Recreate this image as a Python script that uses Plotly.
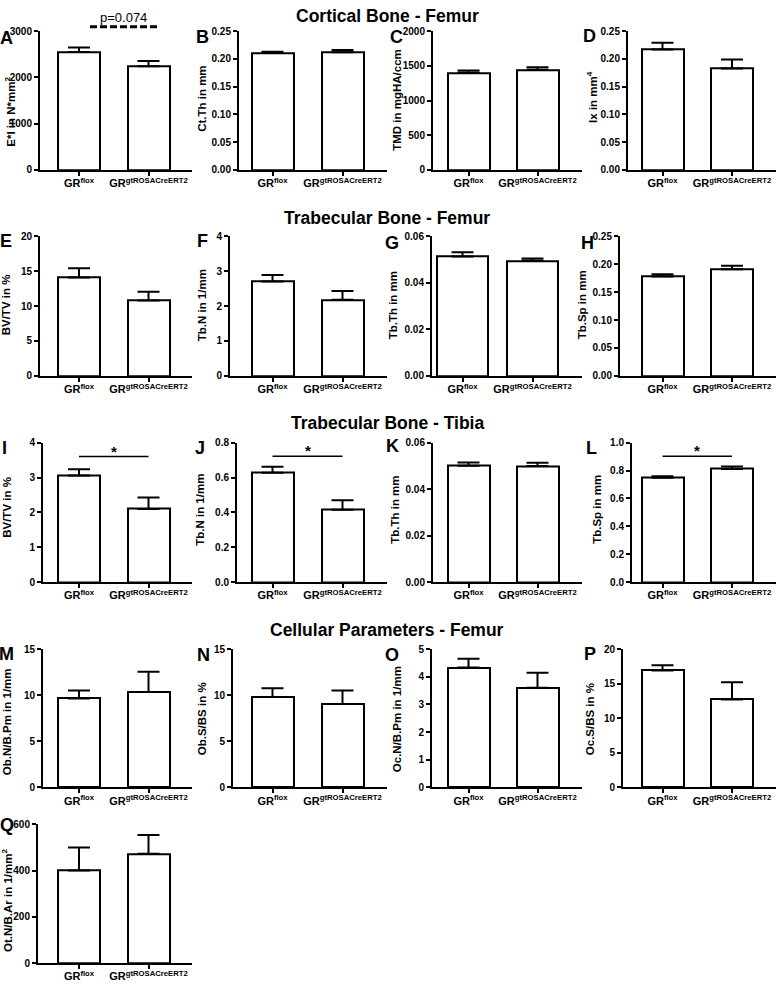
import plotly.graph_objects as go

W, H = 776, 986

# ---------------- data ----------------
groups = ["GR<sup>flox</sup>", "GR<sup>gtROSACreERT2</sup>"]
panel_letters = list("ABCDEFGHIJKLMNOPQ")
row_titles = ["Cortical Bone - Femur", "Trabecular Bone - Femur",
              "Trabecular Bone - Tibia", "Cellular Parameters - Femur"]
y_titles = ["E*I in N*mm<sup>2</sup>", "Ct.Th in mm", "TMD in mgHA/ccm", "Ix in mm<sup>4</sup>",
            "BV/TV in %", "Tb.N in 1/mm", "Tb.Th in mm", "Tb.Sp in mm",
            "BV/TV in %", "Tb.N in 1/mm", "Tb.Th in mm", "Tb.Sp in mm",
            "Ob.N/B.Pm in 1/mm", "Ob.S/BS in %", "Oc.N/B.Pm in 1/mm", "Oc.S/BS in %",
            "Ot.N/B.Ar in 1/mm<sup>2</sup>"]
flox_mean = [2550, 0.211, 1400, 0.217, 14.1, 2.70, 0.0513, 0.178, 3.06, 0.627, 0.0501, 0.749,
             9.65, 9.8, 4.33, 16.9, 400]
flox_sem = [95, 0.002, 32, 0.012, 1.3, 0.19, 0.0018, 0.004, 0.18, 0.035, 0.0014, 0.010,
            0.85, 0.95, 0.32, 0.75, 100]
cre_mean = [2240, 0.212, 1443, 0.183, 10.8, 2.18, 0.0494, 0.191, 2.10, 0.415, 0.0499, 0.811,
            10.35, 9.05, 3.60, 12.7, 472]
cre_sem = [115, 0.004, 37, 0.016, 1.25, 0.25, 0.0010, 0.006, 0.33, 0.055, 0.0014, 0.018,
           2.2, 1.45, 0.54, 2.5, 82]
y_max = [3000, 0.25, 2000, 0.25, 20, 4, 0.06, 0.25, 4, 0.8, 0.06, 1.0, 15, 15, 5, 20, 600]
y_dtick = [1000, 0.05, 500, 0.05, 5, 1, 0.02, 0.05, 1, 0.2, 0.02, 0.2, 5, 5, 1, 5, 200]
y_format = ["d", ".2f", "d", ".2f", "d", "d", ".2f", ".2f", "d", ".1f", ".2f", ".1f",
            "d", "d", "d", "d", "d"]
# significance marks: panel index -> (label, line height in data units)
sig_panels = {8: ("*", 3.6), 9: ("*", 0.722), 11: ("*", 0.903)}
trend_label = "p=0.074"

# ---------------- geometry (pixels) ----------------
axis_left = [40, 239, 433, 628, 40, 230, 432, 620, 43, 237, 433, 632, 43, 233, 432, 623, 38]
row_top = [25.5, 233, 442, 651, 828.3]
row_bot = [166, 374.5, 583.3, 791, 969]
col_centers = [(79, 148.5), (272.5, 342.5), (468.5, 537.5), (662.5, 732)]
col_right = [192, 387, 582, 776]
bar_px = 42
title_pos = [(10, 107), (202, 94), (397, 95), (592, 92),
             (6, 303), (202, 303), (393, 303), (582, 303),
             (7, 508), (200, 510), (395, 510), (597, 510),
             (7, 725), (202, 722), (397, 722), (590, 722),
             (7, 906)]
letter_pos = [(6, 32), (202, 31), (396, 31), (589, 30),
              (6, 238), (202, 238), (392, 240), (587, 240),
              (4, 447), (200, 447), (392, 445), (591, 447),
              (7, 656), (203, 657), (392, 657), (590, 656),
              (7, 829)]
row_title_y = [10, 215, 422, 632]

FONT = "Liberation Sans, Arial, Helvetica, sans-serif"


def px(x):
    return x / W


def py(y):
    return 1 - y / H


fig = go.Figure()
layout = {}
annotations = []
shapes = []

for i in range(17):
    row, col = divmod(i, 4)
    c1, c2 = col_centers[col]
    bw = bar_px
    if i == 6:  # panel G has wider bars
        c1, c2, bw = 462.5, 532.5, 51
    L = axis_left[i]
    R = col_right[col]
    ppu = c2 - c1
    r0 = -(c1 - L) / ppu
    r1 = 1 + (R - c2) / ppu
    suffix = "" if i == 0 else str(i + 1)
    xr, yr = "x" + suffix, "y" + suffix

    fig.add_trace(go.Bar(
        x=[0, 1], y=[flox_mean[i], cre_mean[i]], width=bw / ppu,
        marker=dict(color="white", line=dict(color="black", width=2)),
        error_y=dict(type="data", symmetric=False, array=[flox_sem[i], cre_sem[i]],
                     arrayminus=[0, 0], color="black", thickness=2, width=11),
        xaxis=xr, yaxis=yr, showlegend=False, hoverinfo="skip"))

    layout["xaxis" + suffix] = dict(
        domain=[px(L), px(R)], range=[r0, r1], anchor=yr,
        tickmode="array", tickvals=[0, 1], ticktext=groups,
        ticks="outside", ticklen=4, tickwidth=1.5, tickcolor="black",
        ticklabelstandoff=-2,
        showline=True, linecolor="black", linewidth=2, showgrid=False, zeroline=False,
        tickfont=dict(family=FONT, size=11, color="black", weight="bold"), fixedrange=True)
    layout["yaxis" + suffix] = dict(
        domain=[py(row_bot[row]), py(row_top[row])], range=[0, y_max[i]], anchor=xr,
        tick0=0, dtick=y_dtick[i], tickformat=y_format[i],
        ticks="outside", ticklen=4, tickwidth=1.5, tickcolor="black",
        showline=True, linecolor="black", linewidth=2, showgrid=False, zeroline=False,
        tickfont=dict(family=FONT, size=10, color="black", weight="bold"), fixedrange=True)

    tx, ty = title_pos[i]
    annotations.append(dict(
        text="<b>" + y_titles[i] + "</b>", x=px(tx), y=py(ty), xref="paper", yref="paper",
        xanchor="center", yanchor="middle", textangle=-90, showarrow=False,
        font=dict(family=FONT, size=11.5, color="black")))
    lx, ly = letter_pos[i]
    annotations.append(dict(
        text="<b>" + panel_letters[i] + "</b>", x=px(lx), y=py(ly), xref="paper", yref="paper",
        xanchor="center", yanchor="middle", showarrow=False,
        font=dict(family=FONT, size=18, color="black")))

    if i in sig_panels:
        lab, yl = sig_panels[i]
        shapes.append(dict(type="line", xref=xr, yref=yr, x0=0, x1=1, y0=yl, y1=yl,
                           line=dict(color="black", width=1.5)))
        annotations.append(dict(
            text="<b>" + lab + "</b>", x=0.5, y=yl, xref=xr, yref=yr,
            xanchor="center", yanchor="bottom", yshift=-5, showarrow=False,
            font=dict(family=FONT, size=15, color="black")))

# trend line in panel A (above the axis range)
shapes.append(dict(type="line", xref="paper", yref="paper", x0=px(90), x1=px(157),
                   y0=py(21), y1=py(21), line=dict(color="black", width=3, dash="7px,3px")))
annotations.append(dict(text=trend_label, x=px(123.5), y=py(12), xref="paper", yref="paper",
                        xanchor="center", yanchor="middle", showarrow=False,
                        font=dict(family=FONT, size=13, color="black")))

for t, yv in zip(row_titles, row_title_y):
    annotations.append(dict(text="<b>" + t + "</b>", x=px(387), y=py(yv), xref="paper",
                            yref="paper", xanchor="center", yanchor="middle", showarrow=False,
                            font=dict(family=FONT, size=17.5, color="black")))

fig.update_layout(
    width=W, height=H, margin=dict(l=0, r=0, t=0, b=0),
    paper_bgcolor="white", plot_bgcolor="white",
    annotations=annotations, shapes=shapes, bargap=0,
    font=dict(family=FONT, color="black"),
    **layout)

fig.write_html("out.html", config={"displayModeBar": False},
               post_script="document.body.style.margin='0';document.body.style.overflow='hidden';")
